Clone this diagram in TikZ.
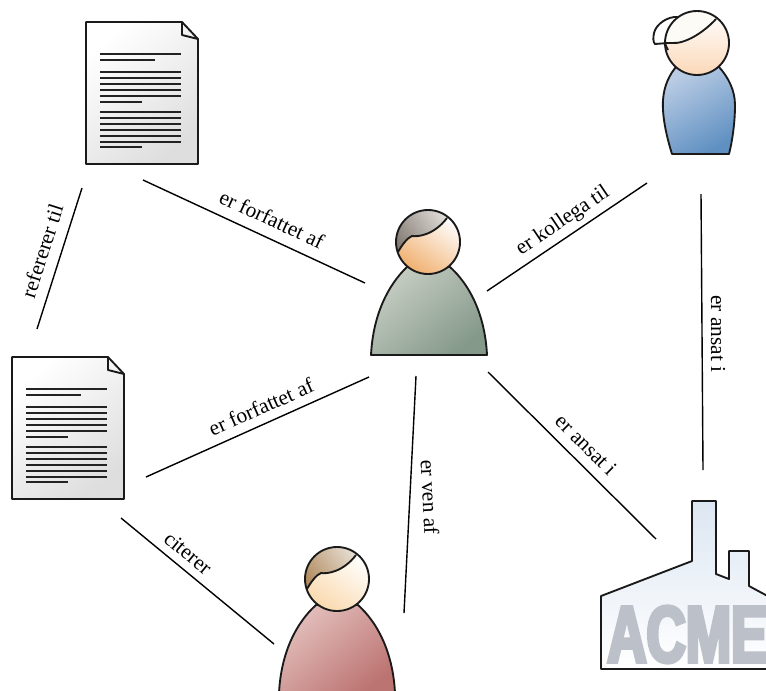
\documentclass[tikz,border=0pt]{standalone}
\usepackage{fontspec}
\setmainfont{Liberation Serif}
\newfontfamily\acmefont[FakeBold=4.5,FakeStretch=0.68]{Liberation Sans Bold}
\definecolor{ink}{HTML}{1A1A1A}
\definecolor{linegray}{HTML}{222222}
\definecolor{greenA}{HTML}{C6CDC2}
\definecolor{greenB}{HTML}{84998A}
\definecolor{blueA}{HTML}{B9CCE4}
\definecolor{blueB}{HTML}{6090C2}
\definecolor{redA}{HTML}{E3BFBC}
\definecolor{redB}{HTML}{BC7472}
\definecolor{skinA}{HTML}{F0B070}
\definecolor{skinB}{HTML}{FBD8B8}
\definecolor{skinC}{HTML}{FAD9AE}
\definecolor{hairA}{HTML}{E4E0DC}
\definecolor{hairB}{HTML}{807870}
\definecolor{hairC}{HTML}{E8E2D8}
\definecolor{hairD}{HTML}{B0875A}
\definecolor{hairE}{HTML}{FDFBF6}
\definecolor{factA}{HTML}{DCE6F2}
\definecolor{acmeC}{HTML}{BCC0C8}
\tikzset{
  x=0.75pt,y=-0.75pt,
  outline/.style={draw=ink,line width=1.4pt,line join=round},
  link/.style={draw=black,line width=1.05pt},
  lab/.style={font=\fontsize{16}{18}\selectfont,inner sep=2.2pt},
  paper/.style={outline,top color=white,bottom color=black!13,shading angle=40},
  txtline/.style={draw=linegray,line width=1.3pt},
  factory/.style={outline,top color=factA,bottom color=white},
}
\newcommand{\docpage}[2]{%
  \begin{scope}[shift={(#1,#2)}]
    \path[paper] (0,0) -- (96,0) -- (112,17) -- (112,142) -- (0,142) -- cycle;
    \draw[outline] (96,0) -- (96,13) -- (112,17);
    \foreach \yy in {32,50,56,62,68,74,90,96,102,108,114,120} \draw[txtline] (14,\yy) -- (95,\yy);
    \draw[txtline] (14,38) -- (69,38);
    \foreach \yy in {80,125} \draw[txtline] (14,\yy) -- (56,\yy);
  \end{scope}}
\newcommand{\headwithhair}[6]{% cx cy skinlight skindark hairlight hairdark
  \begin{scope}[shift={(#1,#2)}]
    \shade[top color=#3,bottom color=#4,shading angle=-35] (0,0) circle (24pt);
    \begin{scope}
      \clip (0,0) circle (24pt);
      \shade[top color=#5,bottom color=#6,shading angle=-55]
        (-33,12) -- (-30,10) .. controls (-26,3) and (-21,-4) .. (-16,-6)
        .. controls (-10,-5) and (6,-7) .. (19,-24) -- (24,-40) -- (-40,-40) -- cycle;
      \draw[outline] (-30,10) .. controls (-26,3) and (-21,-4) .. (-16,-6)
        .. controls (-10,-5) and (6,-7) .. (19,-24);
    \end{scope}
    \draw[outline] (0,0) circle (24pt);
  \end{scope}}
\begin{document}
\begin{tikzpicture}
\useasboundingbox (0,0) rectangle (766,690);
\clip (0,0) rectangle (766,690);
\fill[white] (0,0) rectangle (766,690);

\docpage{86}{22}
\docpage{12}{357}

% centre person
\path[outline,top color=greenA,bottom color=greenB,shading angle=40] (371,355) .. controls (373,315) and (388,285) .. (407,267) -- (450,267)
  .. controls (470,285) and (485,315) .. (487,355) -- cycle;
\headwithhair{428}{242}{white}{skinA}{hairA}{hairB}

% colleague
\path[outline,top color=blueA,bottom color=blueB,shading angle=30]
  (672,154) .. controls (666,135) and (662,115) .. (663,100)
  .. controls (664,85) and (670,74) .. (676,67) -- (719,67)
  .. controls (728,77) and (735,90) .. (735,105)
  .. controls (735,120) and (733,138) .. (729,154) -- cycle;
\path[outline,fill=white] (678,17) .. controls (668,16) and (656,24) .. (654,33)
  .. controls (653,38) and (653,42) .. (655,44) -- (668,43) -- cycle;
\shade[top color=white,bottom color=skinB,shading angle=0] (697,43) circle (24pt);
\begin{scope}
  \clip (697,43) circle (24pt);
  \fill[hairE] (665,55) -- (668,50) -- (665,43) -- (672,43) .. controls (685,44) and (703,33) .. (716,19) -- (697,0) -- (660,5) -- cycle;
  \draw[outline] (668,50) .. controls (666,47) and (666,45) .. (665,43) -- (672,43)
    .. controls (685,44) and (703,33) .. (716,19);
\end{scope}
\draw[outline] (697,43) circle (24pt);

% friend
\path[outline,top color=redA,bottom color=redB,shading angle=40]
  (279,693) .. controls (281,653) and (296,623) .. (316,605) -- (358,605)
  .. controls (378,623) and (393,653) .. (395,693) -- cycle;
\headwithhair{337}{579}{white}{skinC}{hairC}{hairD}

% factory
\path[factory] (601,596) -- (692,561) -- (692,501) -- (716,501) -- (716,574) -- (729,579)
  -- (729,551) -- (749,551) -- (749,586) -- (775,600) -- (775,669) -- (601,669) -- cycle;
\node[name=acme,font=\acmefont\fontsize{60}{60}\selectfont,text=acmeC,anchor=base west,inner sep=0pt] at (607,662) {ACME};

% connector ends
\coordinate (r1) at (82,188);  \coordinate (r2) at (37,329);
\coordinate (a1) at (143,180); \coordinate (a2) at (365,283);
\coordinate (k1) at (487,291); \coordinate (k2) at (647,183);
\coordinate (i1) at (701,194); \coordinate (i2) at (703,470);
\coordinate (b1) at (146,477); \coordinate (b2) at (369,377);
\coordinate (v1) at (416,376); \coordinate (v2) at (404,613);
\coordinate (e1) at (488,372); \coordinate (e2) at (656,539);
\coordinate (c1) at (121,518); \coordinate (c2) at (274,644);

\draw[link] (r2) -- (r1);
\node[lab,rotate=72.3,name=lr] at (42,251) {refererer til};
\draw[link] (a1) -- (a2);
\node[lab,rotate=-24.9,name=la] at (272,219) {er forfattet af};
\draw[link] (k1) -- (k2);
\node[lab,rotate=34,name=lk] at (563,221) {er kollega til};
\draw[link] (i1) -- (i2);
\node[lab,rotate=-90,name=li] at (718,334) {er ansat i};
\draw[link] (b1) -- (b2);
\node[lab,rotate=24,name=lb] at (261,407) {er forfattet af};
\draw[link] (v1) -- (v2);
\node[lab,rotate=-87,name=lv] at (430,497) {er ven af};
\draw[link] (e1) -- (e2);
\node[lab,rotate=-44.8,name=le] at (586,445) {er ansat i};
\draw[link] (c1) -- (c2);
\node[lab,rotate=-39.5,name=lc] at (188,553) {citerer};
\end{tikzpicture}
\end{document}
